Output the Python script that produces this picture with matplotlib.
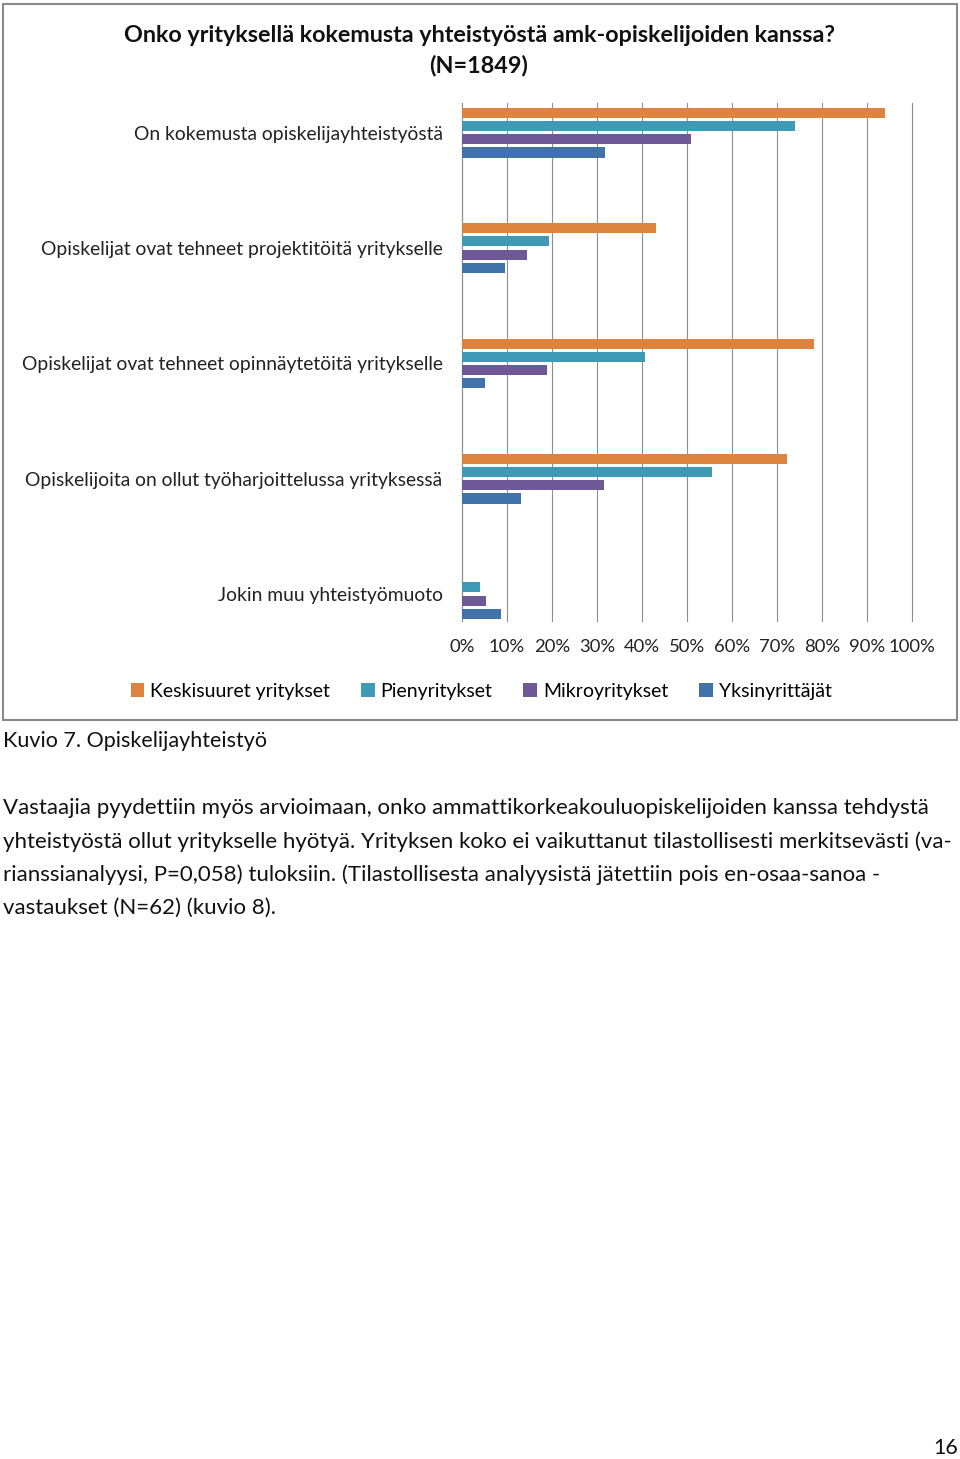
import numpy as np
import matplotlib
matplotlib.use("Agg")
import matplotlib.pyplot as plt
from matplotlib.patches import Rectangle

plt.rcParams['font.family'] = ['Lato', 'DejaVu Sans']

# data (percent)
kategoriat = [
    "On kokemusta opiskelijayhteistyöstä",
    "Opiskelijat ovat tehneet projektitöitä yritykselle",
    "Opiskelijat ovat tehneet opinnäytetöitä yritykselle",
    "Opiskelijoita on ollut työharjoittelussa yrityksessä",
    "Jokin muu yhteistyömuoto",
]
keskisuuret = [93.9, 43.0, 78.2, 72.2, 0.0]
pienyritykset = [73.9, 19.4, 40.6, 55.5, 3.9]
mikroyritykset = [50.8, 14.4, 18.8, 31.5, 5.4]
yksinyrittajat = [31.7, 9.6, 5.2, 13.0, 8.7]
sarjat = ["Keskisuuret yritykset", "Pienyritykset", "Mikroyritykset", "Yksinyrittäjät"]
varit = ["#dc843f", "#3e9ab5", "#6f5896", "#4272aa"]
x_ticks = np.arange(0, 101, 10)

W, H = 960, 1459
fig = plt.figure(figsize=(W / 100, H / 100), dpi=100)

# chart frame
fig.patches.append(Rectangle((3 / W, 1 - 720 / H), 954 / W, 716 / H, transform=fig.transFigure,
                             fill=False, edgecolor="#8a8a8a", linewidth=1.5))

ax = fig.add_axes([462 / W, 1 - 621 / H, 450 / W, (621 - 103.3) / H])

y = np.arange(len(kategoriat))
vali = 0.1145
korkeus = 0.087
arvot = [keskisuuret, pienyritykset, mikroyritykset, yksinyrittajat]
for i, (nimi, vals, c) in enumerate(zip(sarjat, arvot, varit)):
    ax.barh(y + (i - 1.5) * vali, vals, height=korkeus, color=c, label=nimi, zorder=3)

ax.set_xlim(0, 100)
ax.set_ylim(4.234, -0.255)
ax.set_xticks(x_ticks)
ax.set_xticklabels([f"{t}%" for t in x_ticks])
ax.set_yticks(y)
ax.set_yticklabels(kategoriat)
ax.tick_params(axis='both', length=0, colors="#222222")
ax.tick_params(axis='y', pad=14, labelsize=13.9)
ax.tick_params(axis='x', pad=13, labelsize=13.3)
ax.grid(axis='x', color="#8e8e8e", linewidth=0.8, zorder=0)
for gl in ax.get_xgridlines():
    gl.set_clip_on(False)
for s in ["top", "right", "bottom"]:
    ax.spines[s].set_visible(False)
ax.spines["left"].set_color("#8e8e8e")
ax.spines["left"].set_linewidth(0.8)

fig.text(479 / W, 1 - 35 / H, "Onko yrityksellä kokemusta yhteistyöstä amk-opiskelijoiden kanssa?",
         ha='center', va='center', fontsize=16.8, fontweight='bold', color="#111111")
fig.text(479 / W, 1 - 66 / H, "(N=1849)", ha='center', va='center', fontsize=16.8,
         fontweight='bold', color="#111111")

fig.legend(loc='center', bbox_to_anchor=(481 / W, 1 - 691 / H), ncol=4, frameon=False,
           fontsize=14, handlelength=0.7, handleheight=0.7, handletextpad=0.3,
           columnspacing=1.6)

# caption and paragraph
fig.text(3 / W, 1 - 741 / H, "Kuvio 7. Opiskelijayhteistyö", ha='left', va='center',
         fontsize=15.5, color="#111111")
rivit = [
    "Vastaajia pyydettiin myös arvioimaan, onko ammattikorkeakouluopiskelijoiden kanssa tehdystä",
    "yhteistyöstä ollut yritykselle hyötyä. Yrityksen koko ei vaikuttanut tilastollisesti merkitsevästi (va-",
    "rianssianalyysi, P=0,058) tuloksiin. (Tilastollisesta analyysistä jätettiin pois en-osaa-sanoa -",
    "vastaukset (N=62) (kuvio 8).",
]
for k, r in enumerate(rivit):
    fig.text(3 / W, 1 - (808 + 33.4 * k) / H, r, ha='left', va='center', fontsize=16,
             color="#111111")

fig.text(946 / W, 1 - 1448 / H, "16", ha='center', va='center', fontsize=15.5, color="#111111")

fig.savefig("out.png", dpi=100)
